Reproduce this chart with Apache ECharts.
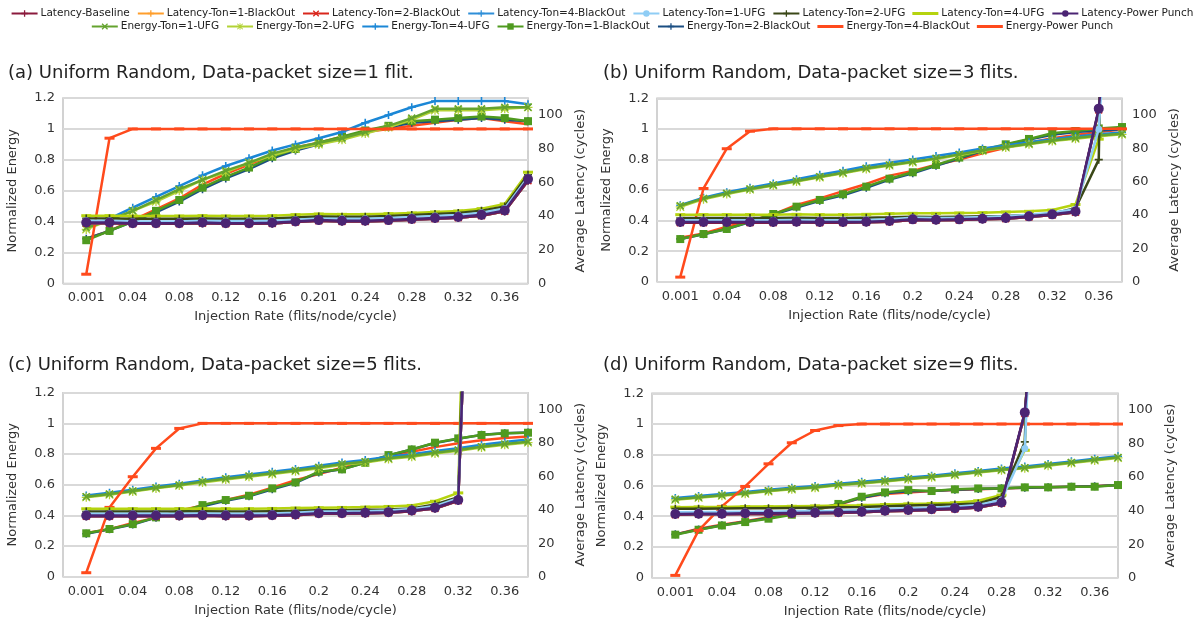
<!DOCTYPE html>
<html><head><meta charset="utf-8">
<script src="https://cdn.jsdelivr.net/npm/echarts@6/dist/echarts.min.js"></script>
<style>html,body{margin:0;padding:0;background:#fff}#c{width:1204px;height:621px}</style>
</head><body><div id="c"></div>
<script>
// ---------------- categories / labels ----------------
const catsA = ['0.001','0.02','0.04','0.06','0.08','0.1','0.12','0.14','0.16','0.18','0.201','0.22','0.24','0.26','0.28','0.3','0.32','0.34','0.36','0.38'];
const catsB = ['0.001','0.02','0.04','0.06','0.08','0.1','0.12','0.14','0.16','0.18','0.2','0.22','0.24','0.26','0.28','0.3','0.32','0.34','0.36','0.38'];
const panelTitles = ['(a) Uniform Random, Data-packet size=1 flit.','(b) Uniform Random, Data-packet size=3 flits.','(c) Uniform Random, Data-packet size=5 flits.','(d) Uniform Random, Data-packet size=9 flits.'];
const latencyNames = ['Latency-Baseline','Latency-Ton=1-BlackOut','Latency-Ton=2-BlackOut','Latency-Ton=4-BlackOut','Latency-Ton=1-UFG','Latency-Ton=2-UFG','Latency-Ton=4-UFG','Latency-Power Punch'];
const energyNames = ['Energy-Ton=1-UFG','Energy-Ton=2-UFG','Energy-Ton=4-UFG','Energy-Ton=1-BlackOut','Energy-Ton=2-BlackOut','Energy-Ton=4-BlackOut','Energy-Power Punch'];

// ---------------- panel (a) ----------------
const a_E_PP   = [0.06,0.94,1,1,1,1,1,1,1,1,1,1,1,1,1,1,1,1,1,1];
const a_E_BO4  = [0.29,0.34,0.41,0.48,0.55,0.64,0.71,0.77,0.83,0.88,0.91,0.95,0.98,1.0,1.02,1.04,1.06,1.07,1.05,1.03];
const a_E_BO1  = [0.28,0.34,0.40,0.47,0.54,0.62,0.69,0.75,0.82,0.87,0.91,0.95,0.99,1.02,1.05,1.06,1.07,1.08,1.07,1.05];
const a_E_BO2  = [0.29,0.34,0.40,0.46,0.53,0.61,0.68,0.74,0.81,0.86,0.90,0.94,0.98,1.01,1.04,1.05,1.06,1.07,1.06,1.05];
const a_E_UFG4 = [0.37,0.42,0.49,0.56,0.63,0.70,0.76,0.81,0.86,0.90,0.94,0.98,1.04,1.09,1.14,1.18,1.18,1.18,1.18,1.16];
const a_E_UFG1 = [0.36,0.41,0.47,0.54,0.61,0.67,0.73,0.78,0.84,0.88,0.91,0.94,0.98,1.02,1.07,1.13,1.13,1.13,1.14,1.14];
const a_E_UFG2 = [0.35,0.41,0.47,0.53,0.60,0.67,0.72,0.78,0.83,0.87,0.90,0.93,0.97,1.01,1.06,1.12,1.12,1.12,1.13,1.14];
const a_L_PP   = [36.2,36.2,35.8,35.8,35.8,36.2,35.8,35.8,36.0,36.8,37.6,37.2,37.2,37.6,38.2,38.8,39.4,40.7,43.3,61.9];
const a_L_Base = [35.8,35.8,35.4,35.4,35.4,35.8,35.4,35.4,35.6,36.4,37.2,36.8,36.8,37.2,37.8,38.4,39.0,40.2,42.8,61.0];
const a_L_UFG1 = [37.2,37.2,36.8,36.8,36.8,37.2,37.0,37.0,37.2,37.8,38.6,38.4,38.4,38.8,39.4,40.0,40.6,42.0,44.5,63.0];
const a_L_UFG2 = [38.6,38.6,38.4,38.4,38.4,38.6,38.4,38.4,38.6,39.2,39.8,39.6,39.6,40.0,40.6,41.2,41.8,43.2,45.6,64.5];
const a_L_UFG4 = [40.2,40.2,40.0,40.0,40.0,40.2,40.0,40.0,40.2,40.8,41.2,41.0,41.0,41.4,41.8,42.4,43.0,44.4,47.2,66.0];

// ---------------- panel (b) ----------------
const b_E_PP   = [0.03,0.61,0.87,0.985,1,1,1,1,1,1,1,1,1,1,1,1,1,1,1,1];
const b_E_BO4  = [0.288,0.316,0.36,0.397,0.44,0.502,0.545,0.593,0.639,0.694,0.724,0.765,0.80,0.84,0.877,0.91,0.938,0.96,0.98,0.995];
const b_E_BO1  = [0.279,0.312,0.345,0.393,0.443,0.491,0.535,0.572,0.622,0.674,0.716,0.764,0.812,0.862,0.899,0.934,0.971,0.986,1.003,1.012];
const b_E_BO2  = [0.28,0.31,0.345,0.39,0.44,0.485,0.53,0.565,0.615,0.668,0.71,0.758,0.806,0.856,0.895,0.93,0.962,0.98,0.99,0.998];
const b_E_UFG4 = [0.50,0.55,0.585,0.615,0.642,0.67,0.70,0.726,0.755,0.778,0.80,0.822,0.846,0.872,0.892,0.912,0.932,0.95,0.965,0.977];
const b_E_UFG1 = [0.497,0.545,0.578,0.607,0.633,0.659,0.687,0.713,0.742,0.764,0.785,0.807,0.833,0.86,0.882,0.903,0.924,0.94,0.956,0.968];
const b_E_UFG2 = [0.49,0.54,0.574,0.603,0.63,0.655,0.683,0.71,0.738,0.76,0.781,0.803,0.829,0.856,0.878,0.899,0.92,0.936,0.952,0.964];
const b_L_PP   = [35.8,35.8,35.8,35.8,35.8,36.0,35.8,35.8,36.0,36.4,37.4,37.2,37.4,37.8,38.2,39.2,40.4,42.1,103.8,250];
const b_L_Base = [35.4,35.4,35.4,35.4,35.4,35.6,35.4,35.4,35.6,36.0,37.0,36.8,37.0,37.4,37.8,38.8,40.0,41.6,103.0,250];
const b_L_UFG1 = [36.8,36.8,36.8,36.8,36.8,37.0,36.8,36.8,37.0,37.4,38.4,38.2,38.4,38.8,39.2,40.2,41.4,43.4,91.5,300];
const b_L_UFG2 = [38.2,38.2,38.2,38.2,38.2,38.4,38.2,38.2,38.4,38.6,39.0,38.8,39.0,39.2,39.4,40.0,40.8,44.1,73.2,900];
const b_L_UFG4 = [40.2,40.2,40.2,40.2,40.2,40.4,40.2,40.2,40.4,40.8,41.0,41.0,41.2,41.4,41.8,42.2,43.0,46.3,85.5,600];

// ---------------- panel (c) ----------------
const c_E_PP   = [0.026,0.452,0.652,0.837,0.967,1,1,1,1,1,1,1,1,1,1,1,1,1,1,1];
const c_E_BO4  = [0.285,0.31,0.35,0.385,0.43,0.465,0.50,0.535,0.58,0.63,0.67,0.71,0.745,0.785,0.815,0.845,0.87,0.89,0.905,0.915];
const c_E_BO1  = [0.283,0.311,0.343,0.387,0.424,0.467,0.50,0.528,0.576,0.615,0.685,0.70,0.743,0.793,0.83,0.874,0.902,0.924,0.935,0.939];
const c_E_BO2  = [0.28,0.31,0.34,0.385,0.42,0.46,0.495,0.525,0.57,0.612,0.68,0.70,0.745,0.79,0.83,0.872,0.90,0.925,0.935,0.94];
const c_E_UFG4 = [0.53,0.547,0.567,0.588,0.607,0.628,0.648,0.666,0.684,0.703,0.724,0.745,0.761,0.783,0.799,0.82,0.838,0.86,0.878,0.895];
const c_E_UFG1 = [0.522,0.539,0.559,0.58,0.598,0.62,0.639,0.657,0.674,0.693,0.713,0.735,0.75,0.772,0.787,0.809,0.826,0.848,0.865,0.88];
const c_E_UFG2 = [0.518,0.535,0.555,0.576,0.594,0.615,0.634,0.652,0.669,0.688,0.708,0.73,0.745,0.767,0.782,0.804,0.821,0.843,0.86,0.875];
const c_L_PP   = [36.6,36.6,36.6,36.6,36.6,36.8,36.6,36.6,36.8,37.2,38.0,38.0,38.2,38.6,39.6,41.2,45.9,420,null,null];
const c_L_Base = [36.2,36.2,36.2,36.2,36.2,36.4,36.2,36.2,36.4,36.8,37.6,37.6,37.8,38.2,39.2,40.8,45.4,420,null,null];
const c_L_UFG1 = [37.6,37.6,37.6,37.6,37.6,37.8,37.6,37.6,37.8,38.2,39.0,39.0,39.2,39.6,40.4,42.2,47.0,420,null,null];
const c_L_UFG2 = [39.0,39.0,39.0,39.0,39.0,39.2,39.0,39.0,39.2,39.4,39.8,39.8,40.0,40.2,40.8,43.2,47.5,500,null,null];
const c_L_UFG4 = [40.6,40.6,40.6,40.6,40.6,40.8,40.6,40.6,40.8,41.0,41.2,41.4,41.6,42.0,42.6,45.1,50.1,600,null,null];

// ---------------- panel (d) ----------------
const d_E_PP   = [0.015,0.308,0.464,0.594,0.741,0.878,0.958,0.99,1,1,1,1,1,1,1,1,1,1,1,1];
const d_E_BO4  = [0.282,0.318,0.345,0.368,0.394,0.42,0.44,0.475,0.52,0.545,0.555,0.565,0.57,0.575,0.58,0.585,0.588,0.592,0.596,0.603];
const d_E_BO1  = [0.28,0.312,0.34,0.362,0.384,0.41,0.44,0.48,0.527,0.555,0.57,0.564,0.575,0.581,0.581,0.588,0.588,0.592,0.592,0.603];
const d_E_BO2  = [0.282,0.314,0.342,0.364,0.388,0.415,0.445,0.48,0.52,0.55,0.562,0.565,0.572,0.578,0.582,0.586,0.589,0.592,0.595,0.603];
const d_E_UFG4 = [0.518,0.531,0.544,0.557,0.573,0.586,0.597,0.612,0.624,0.638,0.652,0.664,0.679,0.695,0.71,0.723,0.74,0.757,0.774,0.79];
const d_E_UFG1 = [0.511,0.524,0.537,0.55,0.566,0.579,0.589,0.605,0.617,0.63,0.644,0.657,0.672,0.688,0.703,0.716,0.733,0.75,0.767,0.783];
const d_E_UFG2 = [0.507,0.52,0.533,0.546,0.562,0.575,0.585,0.601,0.613,0.626,0.64,0.653,0.668,0.684,0.699,0.712,0.729,0.746,0.763,0.779];
const d_L_PP   = [38.0,38.2,38.2,38.4,38.4,38.6,38.8,39.0,39.4,40.0,40.4,40.8,41.4,42.3,44.9,98.6,260,null,null,null];
const d_L_Base = [37.6,37.8,37.8,38.0,38.0,38.2,38.4,38.6,39.0,39.6,40.0,40.4,41.0,41.9,44.4,98.0,260,null,null,null];
const d_L_UFG1 = [39.0,39.2,39.2,39.4,39.4,39.6,39.8,40.0,40.4,41.0,41.4,41.8,42.4,43.4,46.3,77,400,null,null,null];
const d_L_UFG2 = [41.2,41.2,41.3,41.4,41.4,41.6,41.8,42.0,42.2,42.6,43.0,43.3,43.6,44.3,48.3,81,500,null,null,null];
const d_L_UFG4 = [42.1,42.2,42.2,42.4,42.4,42.6,42.8,43.0,43.2,43.6,44.0,44.3,44.7,45.9,49.3,76,650,null,null,null];

// ---------------- assembly ----------------
const panels = [
  {cats: catsA, E:{'Energy-Power Punch':a_E_PP,'Energy-Ton=4-BlackOut':a_E_BO4,'Energy-Ton=1-BlackOut':a_E_BO1,'Energy-Ton=2-BlackOut':a_E_BO2,'Energy-Ton=4-UFG':a_E_UFG4,'Energy-Ton=1-UFG':a_E_UFG1,'Energy-Ton=2-UFG':a_E_UFG2},
   L:{'Latency-Power Punch':a_L_PP,'Latency-Baseline':a_L_Base,'Latency-Ton=1-BlackOut':a_L_Base,'Latency-Ton=2-BlackOut':a_L_Base,'Latency-Ton=4-BlackOut':a_L_Base,'Latency-Ton=1-UFG':a_L_UFG1,'Latency-Ton=2-UFG':a_L_UFG2,'Latency-Ton=4-UFG':a_L_UFG4}},
  {cats: catsB, E:{'Energy-Power Punch':b_E_PP,'Energy-Ton=4-BlackOut':b_E_BO4,'Energy-Ton=1-BlackOut':b_E_BO1,'Energy-Ton=2-BlackOut':b_E_BO2,'Energy-Ton=4-UFG':b_E_UFG4,'Energy-Ton=1-UFG':b_E_UFG1,'Energy-Ton=2-UFG':b_E_UFG2},
   L:{'Latency-Power Punch':b_L_PP,'Latency-Baseline':b_L_Base,'Latency-Ton=1-BlackOut':b_L_Base,'Latency-Ton=2-BlackOut':b_L_Base,'Latency-Ton=4-BlackOut':b_L_Base,'Latency-Ton=1-UFG':b_L_UFG1,'Latency-Ton=2-UFG':b_L_UFG2,'Latency-Ton=4-UFG':b_L_UFG4}},
  {cats: catsB, E:{'Energy-Power Punch':c_E_PP,'Energy-Ton=4-BlackOut':c_E_BO4,'Energy-Ton=1-BlackOut':c_E_BO1,'Energy-Ton=2-BlackOut':c_E_BO2,'Energy-Ton=4-UFG':c_E_UFG4,'Energy-Ton=1-UFG':c_E_UFG1,'Energy-Ton=2-UFG':c_E_UFG2},
   L:{'Latency-Power Punch':c_L_PP,'Latency-Baseline':c_L_Base,'Latency-Ton=1-BlackOut':c_L_Base,'Latency-Ton=2-BlackOut':c_L_Base,'Latency-Ton=4-BlackOut':c_L_Base,'Latency-Ton=1-UFG':c_L_UFG1,'Latency-Ton=2-UFG':c_L_UFG2,'Latency-Ton=4-UFG':c_L_UFG4}},
  {cats: catsB, E:{'Energy-Power Punch':d_E_PP,'Energy-Ton=4-BlackOut':d_E_BO4,'Energy-Ton=1-BlackOut':d_E_BO1,'Energy-Ton=2-BlackOut':d_E_BO2,'Energy-Ton=4-UFG':d_E_UFG4,'Energy-Ton=1-UFG':d_E_UFG1,'Energy-Ton=2-UFG':d_E_UFG2},
   L:{'Latency-Power Punch':d_L_PP,'Latency-Baseline':d_L_Base,'Latency-Ton=1-BlackOut':d_L_Base,'Latency-Ton=2-BlackOut':d_L_Base,'Latency-Ton=4-BlackOut':d_L_Base,'Latency-Ton=1-UFG':d_L_UFG1,'Latency-Ton=2-UFG':d_L_UFG2,'Latency-Ton=4-UFG':d_L_UFG4}}
];

const PLUS = 'path://M4,0H6V10H4ZM0,4H10V6H0Z';
const CROSS = 'path://M1.4,0L5,3.6L8.6,0L10,1.4L6.4,5L10,8.6L8.6,10L5,6.4L1.4,10L0,8.6L3.6,5L0,1.4Z';
const STAR = 'path://M4.3,0H5.7V10H4.3ZM0,4.3H10V5.7H0ZM1.2,0.2L5,4L8.8,0.2L9.8,1.2L6,5L9.8,8.8L8.8,9.8L5,6L1.2,9.8L0.2,8.8L4,5L0.2,1.2Z';
const DASH = 'path://M0,0H10V3H0Z';
const LINE_ICON = 'path://M0,0H26V3H0Z';
const STYLE = {
  'Latency-Baseline':       {color:'#8b1a3d', symbol:PLUS,  size:8},
  'Latency-Ton=1-BlackOut': {color:'#ff9e2c', symbol:PLUS,  size:8},
  'Latency-Ton=2-BlackOut': {color:'#d9261c', symbol:CROSS, size:8},
  'Latency-Ton=4-BlackOut': {color:'#2f8fd8', symbol:PLUS,  size:8},
  'Latency-Ton=1-UFG':      {color:'#8fcdf5', symbol:'circle', size:7},
  'Latency-Ton=2-UFG':      {color:'#3a4717', symbol:PLUS,  size:8},
  'Latency-Ton=4-UFG':      {color:'#b5d30f', symbol:DASH,  size:[10,3]},
  'Latency-Power Punch':    {color:'#4b2473', symbol:'circle', size:10},
  'Energy-Ton=1-UFG':       {color:'#64a32e', symbol:CROSS, size:8},
  'Energy-Ton=2-UFG':       {color:'#b2d235', symbol:STAR,  size:9},
  'Energy-Ton=4-UFG':       {color:'#1b87d6', symbol:PLUS,  size:8},
  'Energy-Ton=1-BlackOut':  {color:'#4f9a1f', symbol:'rect', size:8},
  'Energy-Ton=2-BlackOut':  {color:'#1b4e82', symbol:PLUS,  size:8},
  'Energy-Ton=4-BlackOut':  {color:'#ff4a1c', symbol:'none', size:0},
  'Energy-Power Punch':     {color:'#ff4a1c', symbol:DASH,  size:[10,3]}
};
const plainIcon = {'Latency-Ton=4-UFG':1, 'Energy-Ton=4-BlackOut':1, 'Energy-Power Punch':1};
const energyDrawOrder = ['Energy-Ton=4-BlackOut','Energy-Ton=2-BlackOut','Energy-Ton=1-BlackOut','Energy-Ton=4-UFG','Energy-Ton=2-UFG','Energy-Ton=1-UFG','Energy-Power Punch'];
const latencyDrawOrder = ['Latency-Ton=1-BlackOut','Latency-Ton=2-BlackOut','Latency-Ton=4-BlackOut','Latency-Baseline','Latency-Ton=4-UFG','Latency-Ton=2-UFG','Latency-Ton=1-UFG','Latency-Power Punch'];

const gridPos = [
  {left:63, top:98, width:465, height:185.5},
  {left:657, top:98.3, width:465, height:183.4},
  {left:63, top:392.7, width:465, height:184},
  {left:652, top:393.3, width:466, height:184.4}
];
const FONT = 'DejaVu Sans';
const labelStyle = {fontSize:13, color:'#333', fontFamily:FONT};
const nameStyle = {fontSize:13, color:'#333', fontFamily:FONT};

const grid = [], xAxis = [], yAxis = [], series = [], title = [];
const titlePos = [[3,59],[598,59],[3,351],[598,351]];
panels.forEach((p, k) => {
  grid.push(Object.assign({show:true, borderColor:'#c4c4c4', borderWidth:1.5, containLabel:false}, gridPos[k]));
  title.push({text: panelTitles[k], left: titlePos[k][0], top: titlePos[k][1], textStyle:{fontSize:18, fontWeight:'normal', color:'#222', fontFamily:FONT}});
  xAxis.push({type:'category', gridIndex:k, data:[''].concat(p.cats), boundaryGap:false,
    axisTick:{show:false}, axisLine:{show:false}, splitLine:{show:false},
    axisLabel:Object.assign({interval:(i)=> i % 2 === 1, margin:8}, labelStyle),
    name:'Injection Rate (flits/node/cycle)', nameLocation:'middle', nameGap:27, nameTextStyle:nameStyle});
  yAxis.push({type:'value', gridIndex:k, position:'left', min:0, max:1.2, interval:0.2,
    axisLine:{show:false}, axisTick:{show:false},
    splitLine:{lineStyle:{color:'#d9d9d9', width:2}},
    axisLabel:Object.assign({margin:8}, labelStyle),
    name:'Normalized Energy', nameLocation:'middle', nameGap:44, nameRotate:90, nameTextStyle:nameStyle});
  yAxis.push({type:'value', gridIndex:k, position:'right', min:0, max:110, interval:20,
    axisLine:{show:false}, axisTick:{show:false}, splitLine:{show:false},
    axisLabel:Object.assign({margin:10, showMaxLabel:false}, labelStyle),
    name:'Average Latency (cycles)', nameLocation:'middle', nameGap:46, nameRotate:90, nameTextStyle:nameStyle});
  const add = (name, arr, yIdx, z) => {
    const s = STYLE[name];
    series.push({type:'line', name, xAxisIndex:k, yAxisIndex:yIdx, data:[null].concat(arr),
      symbol:s.symbol, symbolSize:s.size, showSymbol:s.symbol !== 'none', clip:true,
      lineStyle:{color:s.color, width:2.5}, itemStyle:{color:s.color}, color:s.color,
      z:z, silent:true});
  };
  energyDrawOrder.forEach((n, j) => add(n, p.E[n], 2*k, 2 + j*0.01));
  latencyDrawOrder.forEach((n, j) => add(n, p.L[n], 2*k+1, 3 + j*0.01));
});

const legendItems = names => names.map(n => plainIcon[n] ? {name:n, icon:LINE_ICON, itemStyle:{color:STYLE[n].color}} : {name:n});
const legendCommon = {left:'center', itemWidth:26, itemHeight:8, itemGap:7, padding:0,
  textStyle:{fontSize:10.5, color:'#222', fontFamily:FONT, padding:[0,0,0,-2]}};
const option = {
  animation:false,
  backgroundColor:'#fff',
  title,
  legend:[Object.assign({data:legendItems(latencyNames), top:8}, legendCommon), Object.assign({data:legendItems(energyNames), top:21}, legendCommon)],
  grid, xAxis, yAxis, series
};
const chart = echarts.init(document.getElementById('c'), null, {renderer:'canvas'});
chart.setOption(option);
</script>
</body></html>
